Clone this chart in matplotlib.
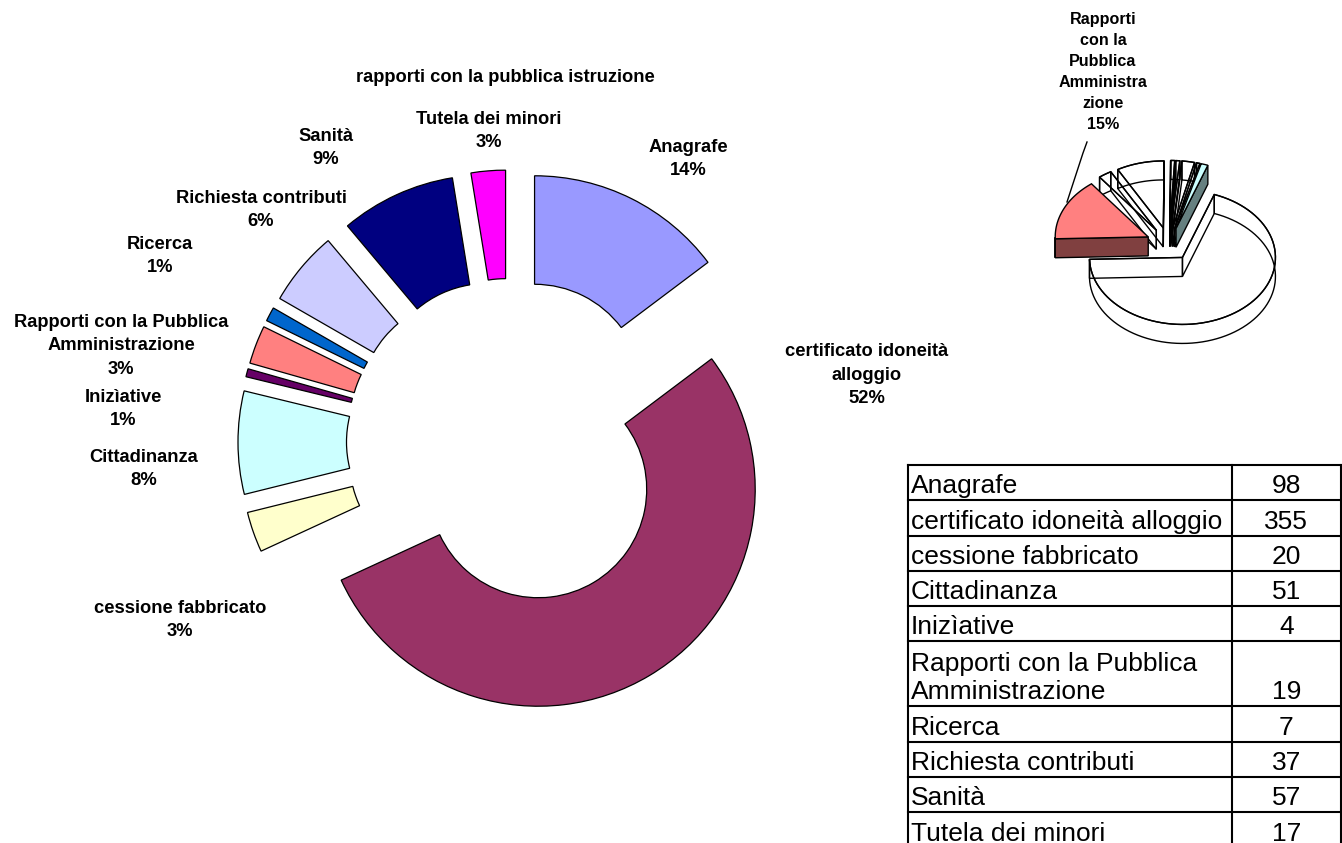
"""Doughnut chart of requests by category, with a small 3D pie and the data table."""

import numpy as np
import matplotlib.pyplot as plt
from matplotlib.patches import Polygon

plt.rcParams["font.family"] = ["Liberation Sans", "DejaVu Sans"]

# --- data -------------------------------------------------------------------
categories = [
    "Anagrafe",
    "certificato idoneità alloggio",
    "cessione fabbricato",
    "Cittadinanza",
    "Inizìative",
    "Rapporti con la Pubblica Amministrazione",
    "Ricerca",
    "Richiesta contributi",
    "Sanità",
    "Tutela dei minori",
    "rapporti con la pubblica istruzione",
]
counts = [98, 355, 20, 51, 4, 19, 7, 37, 57, 17, 0]
pct_labels = ["14%", "52%", "3%", "8%", "1%", "3%", "1%", "6%", "9%", "3%", ""]
slice_colors = [
    "#9999FF", "#993366", "#FFFFCC", "#CCFFFF", "#660066",
    "#FF8080", "#0066CC", "#CCCCFF", "#000080", "#FF00FF", "#FFFFFF",
]

# small 3D pie, clockwise from the big slice
pie3d_values = [69, 15, 2.3, 8.3, 0.7, 0.7, 2.2, 0.6, 1.2]
pie3d_colors = ["none", "#FF8080", "none", "none", "none", "none", "none", "none", "#CCFFFF"]
pie3d_sides = ["none", "#804040", "none", "none", "none", "none", "none", "none", "#668080"]
pie3d_label = "Rapporti\ncon la\nPubblica\nAmministra\nzione\n15%"

# --- layout -----------------------------------------------------------------
W, H = 1342, 843
CX, CY, R = 510, 442, 217          # doughnut centre / outer radius (px)
EXPLODE = 55 / R

# label centres in pixels (same order as categories)
label_pos = [
    (688, 159), (867, 375), (180, 620), (144, 469), (123, 409), (121, 346),
    (160, 256), (261, 210), (326, 148), (489, 131), (505, 78),
]


def wrap_name(name):
    if name == "certificato idoneità alloggio":
        return "certificato idoneità\nalloggio"
    if name == "Rapporti con la Pubblica Amministrazione":
        return "Rapporti con la Pubblica\nAmministrazione"
    return name


def draw_pie3d(ax, values, colors, sides, cx, cy, rx, ry, h, expl, start):
    total = sum(values)
    k = ry / rx
    ang = start
    slices = []
    for v, c, s in zip(values, colors, sides):
        span = 360 * v / total
        t1, t2 = ang - span, ang
        ang = t1
        tm = np.radians((t1 + t2) / 2)
        ox = cx + expl * np.cos(tm)
        oy = cy - expl * k * np.sin(tm)
        slices.append((t1, t2, tm, ox, oy, c, s))
    slices.sort(key=lambda sl: -np.sin(sl[2]))

    for t1, t2, tm, ox, oy, c, s in slices:
        t = np.radians(np.linspace(t1, t2, 80))
        ax_pts = np.column_stack([ox + rx * np.cos(t), oy - ry * np.sin(t)])
        low_pts = ax_pts + [0, h]
        filled = c != "none"

        walls = []
        for i, tt in enumerate((t1, t2)):
            r = np.radians(tt)
            rim = (ox + rx * np.cos(r), oy - ry * np.sin(r))
            quad = [(ox, oy), rim, (rim[0], rim[1] + h), (ox, oy + h)]
            visible = np.cos(r) > 0 if i == 0 else np.cos(r) < 0
            walls.append((quad, visible))

        if filled:
            front = np.sin(t) < 0
            if front.any():
                fp = ax_pts[front]
                side = np.vstack([fp, (fp + [0, h])[::-1]])
                ax.add_patch(Polygon(side, closed=True, facecolor=s,
                                     edgecolor="black", lw=1.0))
            for quad, visible in walls:
                if visible:
                    ax.add_patch(Polygon(quad, closed=True, facecolor=s,
                                         edgecolor="black", lw=1.0))
        else:
            side = np.vstack([ax_pts, low_pts[::-1]])
            ax.add_patch(Polygon(side, closed=True, facecolor="none",
                                 edgecolor="black", lw=1.0))
            for quad, _ in walls:
                ax.add_patch(Polygon(quad, closed=True, facecolor="none",
                                     edgecolor="black", lw=1.0))
        top = np.vstack([[ox, oy], ax_pts])
        ax.add_patch(Polygon(top, closed=True, facecolor=c,
                             edgecolor="black", lw=1.0))


fig = plt.figure(figsize=(W / 100, H / 100), dpi=100)
fig.patch.set_facecolor("white")

# doughnut
ax = fig.add_axes([0, 0, 1, 1])
vals = [v for v in counts if v > 0]
cols = [c for v, c in zip(counts, slice_colors) if v > 0]
ax.pie(
    vals,
    colors=cols,
    radius=1,
    startangle=90,
    counterclock=False,
    explode=[EXPLODE] * len(vals),
    wedgeprops=dict(width=0.5, edgecolor="black", linewidth=0.9),
)
ax.set_aspect("auto")
ax.set_xlim(-CX / R, (W - CX) / R)
ax.set_ylim(-(H - CY) / R, CY / R)
ax.axis("off")

# overlay in pixel coordinates
ov = fig.add_axes([0, 0, 1, 1])
ov.set_xlim(0, W)
ov.set_ylim(H, 0)
ov.axis("off")

for name, pct, (x, y) in zip(categories, pct_labels, label_pos):
    txt = wrap_name(name) + ("\n" + pct if pct else "")
    ov.text(x, y, txt, ha="center", va="center", fontsize=13.2,
            fontweight="bold", linespacing=1.47)

# small 3D pie
draw_pie3d(ov, pie3d_values, pie3d_colors, pie3d_sides,
           cx=1169, cy=244, rx=93, ry=67, h=19, expl=23, start=70)
ov.text(1103, 72, pie3d_label, ha="center", va="center", fontsize=11.6,
        fontweight="bold", linespacing=1.5)
ov.plot([1087, 1083, 1067], [142, 153, 202], color="black", lw=1.0)

# data table
tab_left, tab_mid, tab_right, tab_top = 908, 1232, 1340.5, 465
row_h = 35.3
tab_fs = 19
y = tab_top
lines_y = [y]
for name, v in zip(categories, counts):
    if v == 0:
        continue
    txt = wrap_name(name) if name.startswith("Rapporti") else name
    nlines = txt.count("\n") + 1
    rh = row_h if nlines == 1 else 65
    base = y + rh - 7
    ov.text(tab_left + 3, base, txt, ha="left", va="baseline",
            fontsize=tab_fs, linespacing=1.25)
    ov.text((tab_mid + tab_right) / 2, base, str(v), ha="center",
            va="baseline", fontsize=tab_fs)
    y += rh
    lines_y.append(y)

for ly in lines_y:
    ov.plot([tab_left, tab_right], [ly, ly], color="black", lw=1.5)
for lx in (tab_left, tab_mid, tab_right):
    ov.plot([lx, lx], [tab_top, lines_y[-1]], color="black", lw=1.5)

fig.savefig("out.png", dpi=100, facecolor="white")
